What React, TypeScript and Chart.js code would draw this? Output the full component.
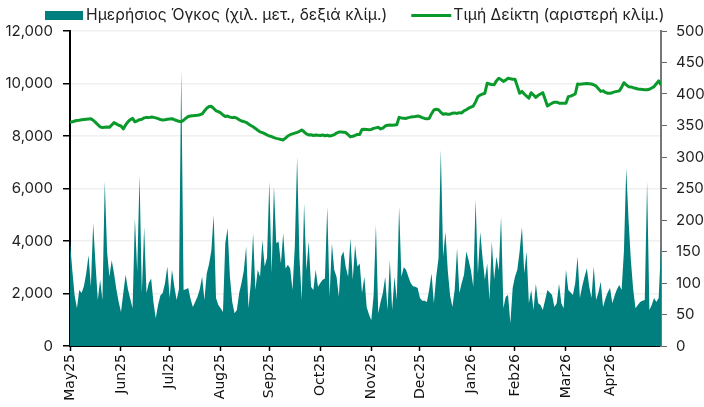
import { useEffect, useRef } from "react";
import { Chart, registerables } from "chart.js";

Chart.register(...registerables);

const TEAL = "#007f7e";
const GREEN = "#0a9a2c";

const volumeLabel = "Ημερήσιος Όγκος (χιλ. μετ., δεξιά κλίμ.)";
const indexLabel = "Τιμή Δείκτη (αριστερή κλίμ.)";

const monthLabels = ["May25", "Jun25", "Jul25", "Aug25", "Sep25", "Oct25", "Nov25", "Dec25", "Jan26", "Feb26", "Mar26", "Apr26"];

// Daily volume (thousand units, right axis), one row per month
const volumeByMonth: number[][] = [
  [166, 120, 80, 60, 89, 84, 95, 115, 144, 94, 195, 130, 73, 105, 73, 261, 150, 110, 136, 115, 90, 70],
  [54, 84, 113, 90, 75, 60, 203, 118, 271, 84, 189, 84, 100, 107, 70, 44, 65, 80, 84, 100, 126],
  [76, 121, 95, 73, 90, 438, 89, 90, 92, 75, 62, 70, 78, 90, 110, 73, 115, 130, 152, 208, 76, 65],
  [60, 54, 163, 187, 110, 70, 52, 57, 84, 100, 120, 158, 60, 100, 179, 89, 121, 110, 168, 126, 140],
  [261, 115, 253, 163, 166, 131, 179, 123, 129, 123, 89, 158, 300, 140, 73, 226, 120, 166, 94, 89, 121, 94],
  [100, 105, 107, 221, 78, 163, 121, 110, 78, 142, 150, 125, 110, 171, 105, 160, 126, 131, 84, 110, 62, 50],
  [41, 80, 192, 52, 70, 84, 110, 57, 136, 57, 110, 73, 221, 110, 125, 121, 110, 100, 95, 94, 92],
  [76, 72, 72, 70, 90, 115, 68, 110, 139, 311, 142, 181, 120, 80, 62, 90, 155, 84, 100, 113, 150, 136],
  [120, 94, 232, 115, 181, 140, 105, 131, 73, 166, 105, 142, 120, 205, 60, 78, 81, 36, 92],
  [110, 121, 150, 189, 115, 150, 68, 89, 57, 99, 68, 65, 57, 73, 89, 85, 81, 62, 68, 99, 68, 60],
  [121, 89, 85, 81, 100, 142, 76, 95, 110, 123, 95, 76, 126, 73, 85, 102, 62, 75, 85],
  [92, 68, 80, 90, 97, 89, 150, 282, 200, 136, 90, 60, 65, 70, 72, 73, 261, 57, 65, 76, 70, 76, 158],
];

// Daily index level (left axis), one row per month
const indexByMonth: number[][] = [
  [8520, 8540, 8570, 8590, 8600, 8620, 8630, 8640, 8650, 8660, 8600, 8520, 8430, 8350, 8320, 8330, 8340, 8330, 8420, 8510, 8460, 8410],
  [8380, 8270, 8420, 8540, 8620, 8670, 8540, 8580, 8620, 8640, 8690, 8710, 8700, 8720, 8710, 8690, 8660, 8630, 8610, 8620, 8640],
  [8650, 8660, 8620, 8590, 8560, 8540, 8600, 8680, 8740, 8760, 8770, 8780, 8790, 8810, 8840, 8950, 9060, 9120, 9130, 9050, 8960, 8930],
  [8880, 8800, 8740, 8760, 8720, 8700, 8710, 8680, 8620, 8570, 8550, 8520, 8460, 8400, 8350, 8290, 8220, 8160, 8130, 8090, 8040],
  [8000, 7980, 7940, 7910, 7890, 7870, 7850, 7920, 8000, 8050, 8080, 8110, 8140, 8180, 8230, 8160, 8080, 8040, 8050, 8020, 8040, 8030],
  [8020, 8040, 8010, 8030, 8000, 8020, 8050, 8110, 8150, 8150, 8140, 8130, 8050, 7970, 7990, 8020, 8060, 8060, 8250, 8260, 8250, 8240],
  [8250, 8290, 8310, 8330, 8270, 8300, 8380, 8410, 8420, 8410, 8420, 8430, 8710, 8690, 8680, 8670, 8700, 8720, 8730, 8740, 8760],
  [8740, 8700, 8670, 8660, 8670, 8850, 8990, 9020, 9000, 8900, 8830, 8850, 8830, 8830, 8870, 8880, 8860, 8890, 8880, 8960, 9000, 9060],
  [9100, 9140, 9300, 9500, 9560, 9600, 9630, 10010, 9980, 9960, 9950, 10100, 10200, 10150, 10080, 10130, 10200, 10180, 10160],
  [10160, 9900, 9630, 9700, 9600, 9520, 9440, 9650, 9560, 9470, 9550, 9600, 9650, 9400, 9140, 9200, 9250, 9290, 9290, 9250, 9250, 9250],
  [9250, 9500, 9520, 9560, 9600, 9980, 9970, 9980, 9990, 10000, 9990, 9980, 9950, 9900, 9800, 9700, 9720, 9660, 9630],
  [9630, 9650, 9680, 9700, 9720, 9850, 10030, 9950, 9880, 9870, 9840, 9820, 9790, 9780, 9770, 9760, 9760, 9780, 9830, 9880, 9990, 10100, 9940],
];

const leftMax = 12000;
const leftStep = 2000;
const rightMax = 500;
const rightStep = 50;

const legendPlugin = {
  id: "topLegend",
  afterDraw(chart: any) {
    const ctx = chart.ctx as CanvasRenderingContext2D;
    ctx.save();
    ctx.font = "15.7px Inter";
    ctx.textBaseline = "middle";
    ctx.textAlign = "left";
    const y = 15.5;
    let x = 45;
    ctx.fillStyle = TEAL;
    ctx.fillRect(x, y - 4.5, 38, 9);
    x += 38 + 3;
    ctx.fillStyle = "#222";
    ctx.fillText(volumeLabel, x, y);
    x += ctx.measureText(volumeLabel).width + 24;
    ctx.strokeStyle = GREEN;
    ctx.lineWidth = 3;
    ctx.beginPath();
    ctx.moveTo(x, y);
    ctx.lineTo(x + 40, y);
    ctx.stroke();
    x += 42;
    ctx.fillStyle = "#222";
    ctx.fillText(indexLabel, x, y);
    ctx.restore();
  },
};

export default function App() {
  const ref = useRef<HTMLCanvasElement>(null);

  useEffect(() => {
    const volume = volumeByMonth.flat();
    const level = indexByMonth.flat();
    const starts: number[] = [];
    let acc = 0;
    for (const m of volumeByMonth) {
      starts.push(acc);
      acc += m.length;
    }
    const n = volume.length;

    const chart = new Chart(ref.current!, {
      type: "line",
      plugins: [legendPlugin],
      data: {
        datasets: [
          {
            label: indexLabel,
            data: level.map((y, i) => ({ x: i, y })),
            yAxisID: "y",
            borderColor: GREEN,
            backgroundColor: GREEN,
            borderWidth: 3,
            pointRadius: 0,
            fill: false,
            tension: 0,
            borderJoinStyle: "round",
            order: 0,
          },
          {
            label: volumeLabel,
            data: volume.map((y, i) => ({ x: i, y })),
            yAxisID: "y1",
            backgroundColor: TEAL,
            borderColor: TEAL,
            borderWidth: 0,
            pointRadius: 0,
            fill: "origin",
            tension: 0,
            order: 1,
          },
        ],
      },
      options: {
        animation: false,
        responsive: true,
        maintainAspectRatio: false,
        layout: { padding: { top: 31, left: 0, right: 0, bottom: 0 } },
        plugins: {
          tooltip: { enabled: false },
          legend: { display: false },
        },
        scales: {
          x: {
            type: "linear",
            min: 0,
            max: n - 1,
            afterBuildTicks: (s: any) => {
              s.ticks = starts.map((v) => ({ value: v }));
            },
            afterFit: (s: any) => {
              s.height = 61;
            },
            ticks: {
              autoSkip: false,
              minRotation: 90,
              maxRotation: 90,
              padding: 3,
              color: "#111",
              font: { family: "DejaVu Sans", size: 14 },
              callback: (_v: any, i: number) => monthLabels[i] ?? "",
            },
            grid: { drawOnChartArea: false, tickLength: 5, tickColor: "#000", tickWidth: 1.5 },
            border: { color: "#000", width: 2 },
          },
          y: {
            position: "left",
            min: 0,
            max: leftMax,
            afterFit: (s: any) => {
              s.width = 70;
            },
            ticks: {
              stepSize: leftStep,
              padding: 10,
              color: "#222",
              font: { family: "Inter", size: 15 },
              callback: (v: any) => Number(v).toLocaleString("en-US"),
            },
            grid: { color: "#f0f0f0", lineWidth: 1.5, tickColor: "#000", tickLength: 7 },
            border: { color: "#000", width: 2 },
          },
          y1: {
            position: "right",
            min: 0,
            max: rightMax,
            afterFit: (s: any) => {
              s.width = 43;
            },
            ticks: {
              stepSize: rightStep,
              padding: 9,
              color: "#222",
              font: { family: "Inter", size: 15 },
            },
            grid: { drawOnChartArea: false, tickColor: "#666", tickLength: 6 },
            border: { color: "#777", width: 2 },
          },
        },
      },
    });
    return () => chart.destroy();
  }, []);

  return (
    <div style={{ position: "fixed", left: 0, top: 0, width: 704, height: 407 }}>
      <canvas ref={ref} />
    </div>
  );
}
